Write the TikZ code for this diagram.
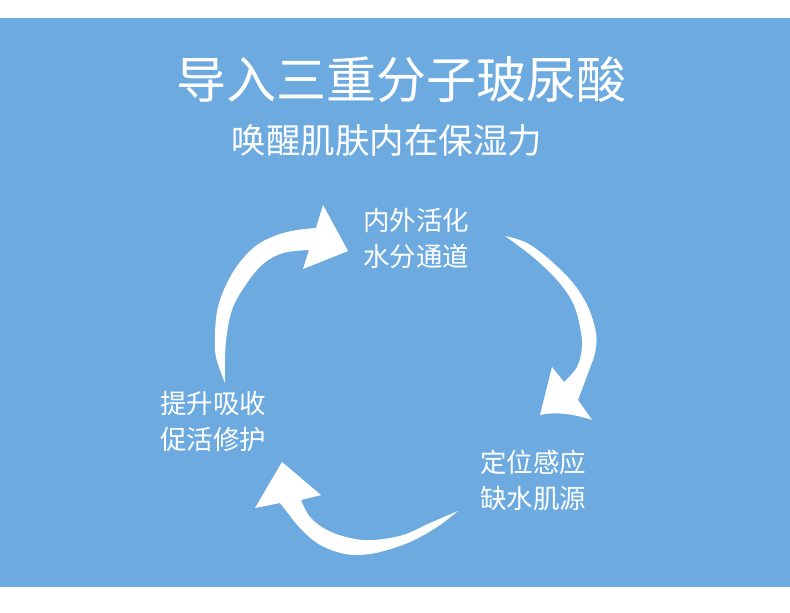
\documentclass[tikz,border=0pt]{standalone}
\usepackage{fontspec}
\newfontfamily\cjk{Noto Sans CJK SC}
\definecolor{bgblue}{RGB}{109,170,224}
\tikzset{
  arrowshape/.style={fill=white, draw=none},
  titletext/.style={text=white, font=\cjk\fontsize{50}{60}\selectfont, inner sep=0pt},
  subtext/.style={text=white, font=\cjk\fontsize{34.5}{40}\selectfont, inner sep=0pt},
  labeltext/.style={text=white, font=\cjk\fontsize{26.5}{36}\selectfont, align=left, inner sep=0pt, anchor=west}
}
\begin{document}
\begin{tikzpicture}[x=1pt,y=-1pt]
\useasboundingbox (0,0) rectangle (790,613);
\fill[white] (0,0) rectangle (790,613);
\fill[bgblue] (0,18) rectangle (790,587);

\node[titletext] (title) at (401,80) {导入三重分子玻尿酸};
\node[subtext] (subtitle) at (387,140) {唤醒肌肤内在保湿力};

\node[labeltext] (top) at (363,238) {内外活化\\水分通道};
\node[labeltext] (right) at (480,480) {定位感应\\缺水肌源};
\node[labeltext] (left) at (160,421) {提升吸收\\促活修护};

% arrow 1: left, going up to the top
\fill[arrowshape] plot[smooth, tension=0.6] coordinates {(225,383) (216,357) (215,333) (218,307) (227,283) (240,262) (257,245) (277,235) (297,230) (316,228)}
  -- (323,205) -- (348,251) -- (303,269) --
  plot[smooth, tension=0.6] coordinates {(309,250) (283,253) (263,264) (247,283) (233,307) (227,333) (225,357) (225,383)} -- cycle;

% arrow 2: right, going down
\fill[arrowshape] plot[smooth, tension=0.6] coordinates {(505,236) (527,243) (550,260) (573,283) (588,307) (596,333) (595,353) (588,373) (578,400)}
  -- (592,420) .. controls (572,413) and (552,412) .. (540,415) -- (552,367) --
  plot[smooth, tension=0.6] coordinates {(564,382) (577,367) (582,347) (580,327) (573,303) (557,280) (533,257) (505,236)} -- cycle;

% arrow 3: bottom, going to the left
\fill[arrowshape] plot[smooth, tension=0.6] coordinates {(458,511) (437,527) (410,542) (380,552) (357,555) (337,552) (317,543) (300,528) (287,512) (280,503)}
  -- (255,508) -- (282,462) -- (321,495) --
  plot[smooth, tension=0.6] coordinates {(301,500) (310,517) (327,530) (350,538) (373,540) (403,535) (430,523) (458,511)} -- cycle;
\end{tikzpicture}
\end{document}
